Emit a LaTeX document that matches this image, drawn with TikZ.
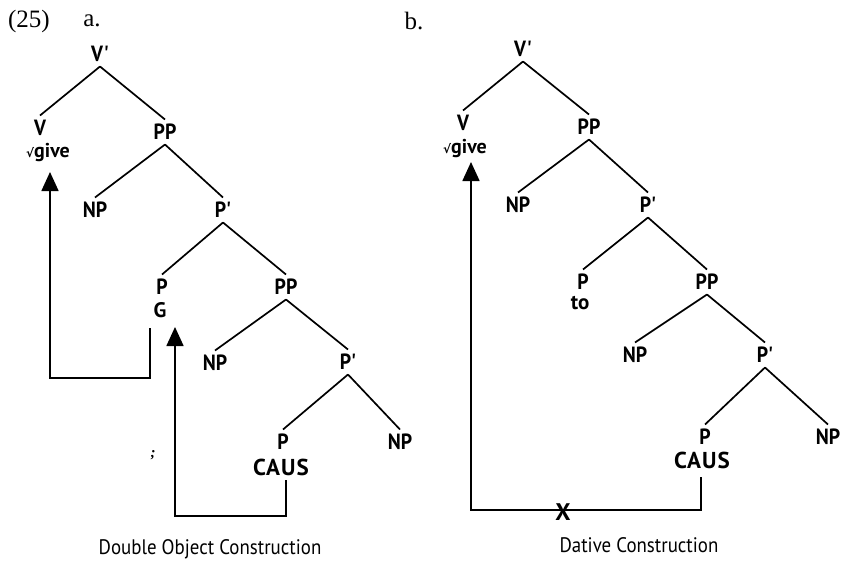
\documentclass[tikz,border=0pt]{standalone}
\usepackage{fontspec}
\setmainfont{Liberation Serif}
\newfontfamily\labfont[FakeStretch=0.9]{PT Sans}
\newfontfamily\subfont{PT Sans}
\newfontfamily\causfont[LetterSpace=5]{PT Sans}
\newfontfamily\capfont[FakeStretch=0.9]{PT Sans}
\newfontfamily\symfont{DejaVu Sans}
\usetikzlibrary{arrows.meta}
\begin{document}
\begin{tikzpicture}[x=1pt,y=-1pt,
  lab/.style={font=\labfont\bfseries\fontsize{22}{22}\selectfont, inner sep=0pt, outer sep=5pt,
     text height=15pt, text depth=0pt, minimum height=15pt},
  sub/.style={font=\subfont\bfseries\fontsize{21}{21}\selectfont, inner sep=0pt, outer sep=0pt},
  givetxt/.style={font=\subfont\bfseries\fontsize{20}{20}\selectfont, inner sep=0pt, outer sep=0pt},
  caus/.style={font=\causfont\bfseries\fontsize{23}{23}\selectfont, inner sep=0pt, outer sep=0pt},
  edge/.style={line width=1.7pt},
  movtip/.style={line width=1.7pt, -{Triangle[width=17pt,length=19pt]}},
  captxt/.style={font=\capfont\fontsize{21}{21}\selectfont, inner sep=0pt},
  num/.style={font=\fontsize{25}{25}\selectfont, inner sep=0pt}]
\useasboundingbox (0,0) rectangle (846,563);

% headings
\node[num] (ex) at (29,21) {(25)};
\node[num] (ha) at (92,21) {a.};
\node[num] (hb) at (414,21) {b.};

% ---------- tree a ----------
\node[lab] (aVp) at (100,54) {V'};
\node[lab] (aV) at (40,128) {V};
\node[givetxt] (aGive) at (48,153) {{\symfont\fontsize{12}{12}\selectfont√}give};
\node[lab] (aPP1) at (165,132) {PP};
\node[lab] (aNP1) at (95,210) {NP};
\node[lab] (aPb1) at (223,210) {P'};
\node[lab] (aP1) at (162,287) {P};
\node[sub] (aG) at (160,310) {G};
\node[lab] (aPP2) at (286,287) {PP};
\node[lab] (aNP2) at (215,363) {NP};
\node[lab] (aPb2) at (348,362) {P'};
\node[lab] (aP2) at (283,442) {P};
\node[caus] (aCaus) at (281,467) {CAUS};
\node[lab] (aNP3) at (400,442) {NP};

\foreach \p/\c in {aVp/aV, aVp/aPP1, aPP1/aNP1, aPP1/aPb1, aPb1/aP1, aPb1/aPP2,
                   aPP2/aNP2, aPP2/aPb2, aPb2/aP2, aPb2/aNP3}
  \draw[edge] (\p.south) -- (\c.north);

% movement arrows a
\coordinate (g1) at (150,328);
\coordinate (g2) at (50,378);
\coordinate (g3) at (50,172);
\draw[movtip] (g1) |- (g2) -- (g3);
\coordinate (c1) at (286,480);
\coordinate (c2) at (175,516);
\coordinate (c3) at (175,327);
\draw[movtip] (c1) |- (c2) -- (c3);

\node[font=\bfseries\itshape\fontsize{15}{15}\selectfont, inner sep=0pt] (stray) at (153,455) {;};

\node[captxt] (capa) at (210,549) {Double Object Construction};

% ---------- tree b ----------
\node[lab] (bVp) at (523,49) {V'};
\node[lab] (bV) at (463,123) {V};
\node[givetxt] (bGive) at (465,149) {{\symfont\fontsize{12}{12}\selectfont√}give};
\node[lab] (bPP1) at (589,127) {PP};
\node[lab] (bNP1) at (518,205) {NP};
\node[lab] (bPb1) at (648,205) {P'};
\node[lab] (bP1) at (583,282) {P};
\node[sub] (bTo) at (580,303) {to};
\node[lab] (bPP2) at (707,282) {PP};
\node[lab] (bNP2) at (635,355) {NP};
\node[lab] (bPb2) at (765,355) {P'};
\node[lab] (bP2) at (705,437) {P};
\node[caus] (bCaus) at (702,460) {CAUS};
\node[lab] (bNP3) at (828,437) {NP};

\foreach \p/\c in {bVp/bV, bVp/bPP1, bPP1/bNP1, bPP1/bPb1, bPb1/bP1, bPb1/bPP2,
                   bPP2/bNP2, bPP2/bPb2, bPb2/bP2, bPb2/bNP3}
  \draw[edge] (\p.south) -- (\c.north);

\coordinate (d1) at (701,477);
\coordinate (d2) at (471,510);
\coordinate (d3) at (471,162);
\draw[movtip] (d1) |- (d2) -- (d3);
\node[sub, font=\subfont\bfseries\fontsize{24}{24}\selectfont] (bX) at (563,512) {X};

\node[captxt] (capb) at (639,545) {Dative Construction};
\end{tikzpicture}
\end{document}
